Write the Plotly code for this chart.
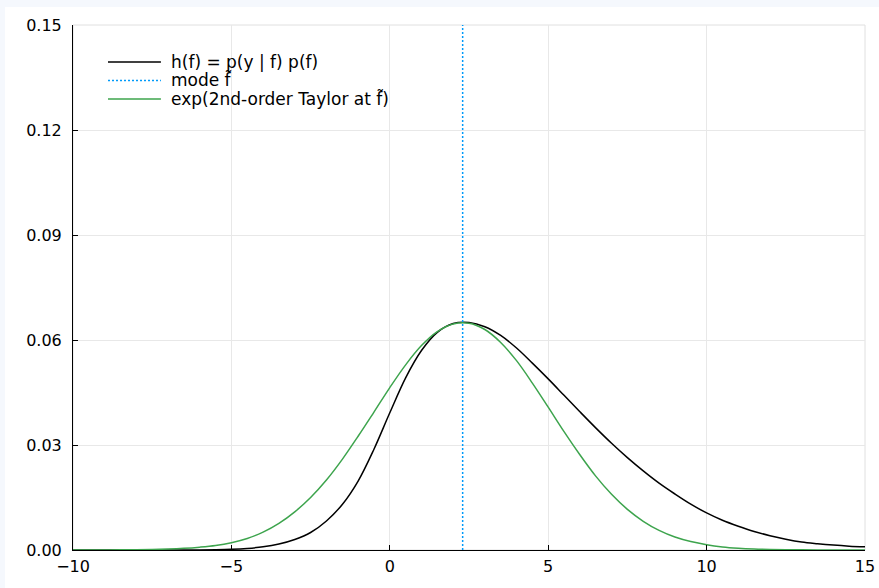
import plotly.graph_objects as go

# Grid of f values and the two curves evaluated on it
f_vals = [-10.0, -9.5, -9.0, -8.5, -8.0, -7.5, -7.0, -6.5, -6.0, -5.5,
          -5.0, -4.5, -4.0, -3.5, -3.0, -2.5, -2.0, -1.5, -1.0, -0.5,
          0.0, 0.5, 1.0, 1.5, 2.0, 2.5, 3.0, 3.5, 4.0, 4.5,
          5.0, 5.5, 6.0, 6.5, 7.0, 7.5, 8.0, 8.5, 9.0, 9.5,
          10.0, 10.5, 11.0, 11.5, 12.0, 12.5, 13.0, 13.5, 14.0, 14.5, 15.0]

h_vals = [0.0, 0.0, 0.0, 0.0, 0.0, 0.0, 0.0, 0.00001, 0.00003, 0.00008,
          0.0002, 0.00045, 0.0009, 0.0017, 0.0030, 0.0050, 0.0083, 0.0130, 0.0197, 0.0288,
          0.0392, 0.0492, 0.0570, 0.0622, 0.0647, 0.0650, 0.0638, 0.0613, 0.0577, 0.0534,
          0.0489, 0.0442, 0.0395, 0.0349, 0.0305, 0.0264, 0.0226, 0.0191, 0.0160, 0.0131,
          0.0106, 0.0085, 0.0068, 0.0053, 0.0041, 0.0031, 0.0023, 0.0018, 0.0014, 0.0011, 0.0009]

taylor_vals = [0.000004, 0.000009, 0.000019, 0.000038, 0.000075, 0.00014, 0.00026, 0.00047, 0.00081, 0.0013,
               0.0021, 0.0033, 0.0051, 0.0076, 0.0109, 0.0150, 0.0200, 0.0259, 0.0325, 0.0394,
               0.0464, 0.0529, 0.0584, 0.0624, 0.0646, 0.0648, 0.0630, 0.0593, 0.0541, 0.0477,
               0.0408, 0.0338, 0.0272, 0.0211, 0.0159, 0.0116, 0.0082, 0.0056, 0.0037, 0.0024,
               0.0015, 0.00089, 0.00052, 0.00029, 0.00016, 0.000085, 0.000044, 0.000022, 0.00001, 0.000005, 0.000002]

mode_f = [2.3, 2.3]
mode_span = [0.0, 0.15]

x_ticks = [-10, -5, 0, 5, 10, 15]
y_ticks = [0.00, 0.03, 0.06, 0.09, 0.12, 0.15]

series_names = ["h(f) = p(y | f) p(f)", "mode f\u0303", "exp(2nd-order Taylor at f\u0303)"]
series_colors = ["black", "#009af9", "#3da44d"]
series_dash = ["solid", "2px,2px", "solid"]

FONT = "DejaVu Sans"
GRID = "#e8e8e8"

fig = go.Figure()
fig.add_trace(go.Scatter(x=f_vals, y=h_vals, mode="lines", line_shape="spline",
                         name=series_names[0],
                         line=dict(color=series_colors[0], width=1.5, dash=series_dash[0])))
fig.add_trace(go.Scatter(x=mode_f, y=mode_span, mode="lines",
                         name=series_names[1],
                         line=dict(color=series_colors[1], width=1.5, dash=series_dash[1])))
fig.add_trace(go.Scatter(x=f_vals, y=taylor_vals, mode="lines", line_shape="spline",
                         name=series_names[2],
                         line=dict(color=series_colors[2], width=1.5, dash=series_dash[2])))

# page backdrop: pale strip along the top and left edges, white card elsewhere
fig.add_shape(type="rect", xref="paper", yref="paper",
              x0=-0.0859, x1=1.03, y0=-0.08, y1=1.0343,
              fillcolor="white", line_width=0, layer="below")
# light frame around the plotting area
fig.add_shape(type="rect", xref="paper", yref="paper",
              x0=0, x1=1, y0=0, y1=1,
              line=dict(color="#e0e0e0", width=1), layer="below")

# compact legend in the upper-left corner: sample line + label per series
legend_rows = [0.9295, 0.8943, 0.8590]
for name, color, dash, yrow in zip(series_names, series_colors, series_dash, legend_rows):
    fig.add_shape(type="line", xref="paper", yref="paper",
                  x0=0.0442, x1=0.1110, y0=yrow, y1=yrow,
                  line=dict(color=color, width=1.5, dash=dash))
    fig.add_annotation(xref="paper", yref="paper", x=0.1212, y=yrow,
                       xanchor="left", yanchor="middle", showarrow=False,
                       text=name, font=dict(family=FONT, size=17, color="black"))

fig.update_layout(
    width=879, height=588,
    margin=dict(l=73, r=14, t=25, b=38, autoexpand=False),
    paper_bgcolor="#f5f8fd",
    plot_bgcolor="white",
    font=dict(family=FONT, size=16, color="black"),
    showlegend=False,
)
fig.update_xaxes(range=[-10, 15], tickvals=x_ticks, automargin=False,
                 showgrid=True, gridcolor=GRID, gridwidth=1,
                 showline=True, linecolor="black", linewidth=1,
                 ticks="inside", ticklen=5, tickcolor="black",
                 ticklabelstandoff=2,
                 zeroline=False, tickfont=dict(family=FONT, size=16))
fig.update_yaxes(range=[0, 0.15], tickvals=y_ticks, tickformat=".2f", automargin=False,
                 showgrid=True, gridcolor=GRID, gridwidth=1,
                 showline=True, linecolor="black", linewidth=1,
                 ticks="inside", ticklen=5, tickcolor="black",
                 ticklabelstandoff=7,
                 zeroline=False, tickfont=dict(family=FONT, size=16))

fig.write_html("out.html")
